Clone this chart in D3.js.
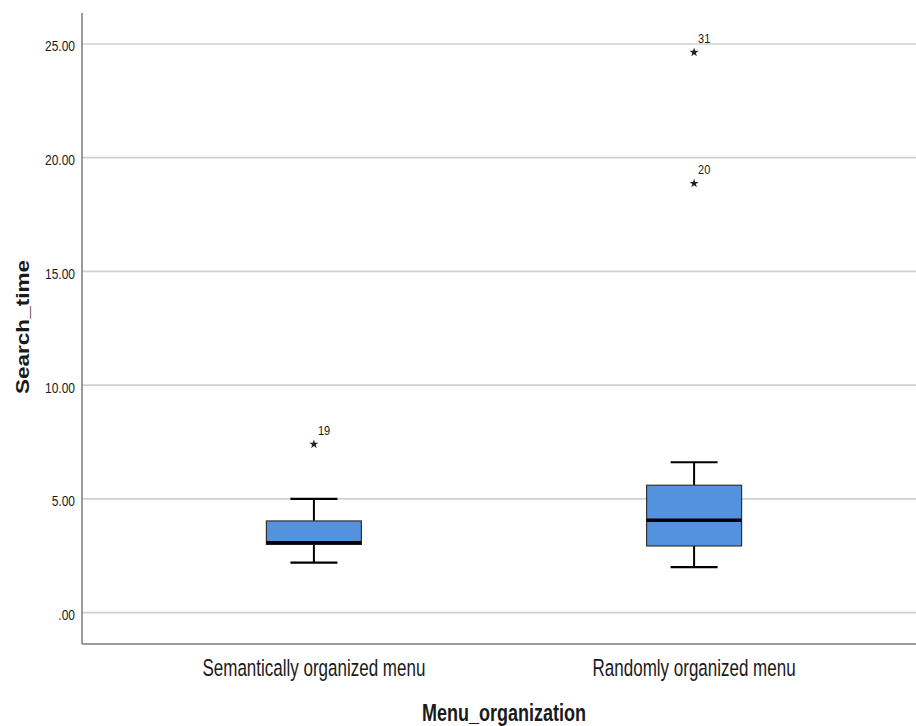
<!DOCTYPE html>
<html>
<head>
<meta charset="utf-8">
<script src="https://cdn.jsdelivr.net/npm/d3@7"></script>
<style>
  html, body { margin: 0; padding: 0; background: #fff; }
  svg { display: block; }
  text { font-family: "Liberation Sans", Arial, sans-serif; }
</style>
</head>
<body>
<div id="chart"></div>
<script>
// ---- data ----
const categories = ["Semantically organized menu", "Randomly organized menu"];
const whiskerLow  = [2.2, 2.0];
const q1          = [3.0, 2.93];
const median      = [3.07, 4.06];
const q3          = [4.03, 5.6];
const whiskerHigh = [5.0, 6.61];
const outlierCategory = ["Semantically organized menu", "Randomly organized menu", "Randomly organized menu"];
const outlierValues   = [7.4, 18.87, 24.63];
const outlierLabels   = ["19", "20", "31"];
const yTickValues = [0, 5, 10, 15, 20, 25];
const yTickLabels = [".00", "5.00", "10.00", "15.00", "20.00", "25.00"];
const xTitle = "Menu_organization";
const yTitle = "Search_time";

// ---- layout ----
const W = 916, H = 726;
const plotLeft = 82, plotRight = 926, plotTop = 13, plotBottom = 644;

const svg = d3.select("#chart").append("svg").attr("width", W).attr("height", H);

const x = d3.scalePoint().domain(categories).range([plotLeft, plotRight]).padding(0.61);
const y = d3.scaleLinear().domain([-1.38, 26.36]).range([plotBottom, plotTop]);

function sText(g, txt, tx, ty, size, anchor, weight, stretch, rotate) {
  return g.append("text")
    .attr("transform", rotate
      ? `translate(${tx},${ty}) rotate(-90) scale(${stretch},1)`
      : `translate(${tx},${ty}) scale(1,${stretch})`)
    .attr("text-anchor", anchor)
    .attr("font-size", size)
    .attr("font-weight", weight || "normal")
    .attr("fill", "#1a1a1a")
    .text(txt);
}

// gridlines
svg.append("g").selectAll("line").data(yTickValues).join("line")
  .attr("x1", plotLeft).attr("x2", W)
  .attr("y1", d => y(d)).attr("y2", d => y(d))
  .attr("stroke", "#d0d0d0").attr("stroke-width", 1.6);

// y axis via d3 axis (labels drawn manually for vertical stretch)
const yAxis = d3.axisLeft(y).tickValues(yTickValues).tickSize(0).tickFormat("");
const gy = svg.append("g").attr("transform", `translate(${plotLeft},0)`).call(yAxis);
gy.select(".domain").remove();
const yl = svg.append("g");
yTickValues.forEach((v, i) => sText(yl, yTickLabels[i], 75, y(v) + 7.5, 12, "end", "normal", 1.25));

// axis lines
svg.append("line").attr("x1", plotLeft).attr("x2", plotLeft).attr("y1", plotTop).attr("y2", plotBottom)
  .attr("stroke", "#7a7a7a").attr("stroke-width", 1.5);
svg.append("line").attr("x1", plotLeft).attr("x2", W).attr("y1", plotBottom).attr("y2", plotBottom)
  .attr("stroke", "#7a7a7a").attr("stroke-width", 1.5);

// x tick labels
const xl = svg.append("g");
categories.forEach(c => sText(xl, c, x(c), 676, 17, "middle", "normal", 1.37));

// titles
sText(svg, xTitle, 504, 721, 18, "middle", "bold", 1.28);
sText(svg, yTitle, 29, 327, 18.5, "middle", "bold", 1.22, true);

// boxes
const boxW = 95, capW = 47;
const g = svg.append("g");
categories.forEach((c, i) => {
  const cx = x(c);
  g.append("line").attr("x1", cx).attr("x2", cx).attr("y1", y(whiskerHigh[i])).attr("y2", y(q3[i]))
    .attr("stroke", "#000").attr("stroke-width", 2);
  g.append("line").attr("x1", cx).attr("x2", cx).attr("y1", y(q1[i])).attr("y2", y(whiskerLow[i]))
    .attr("stroke", "#000").attr("stroke-width", 2);
  [whiskerHigh[i], whiskerLow[i]].forEach(v => {
    g.append("line").attr("x1", cx - capW / 2).attr("x2", cx + capW / 2).attr("y1", y(v)).attr("y2", y(v))
      .attr("stroke", "#000").attr("stroke-width", 2.2);
  });
  g.append("rect").attr("x", cx - boxW / 2).attr("y", y(q3[i]))
    .attr("width", boxW).attr("height", y(q1[i]) - y(q3[i]))
    .attr("fill", "#5492dd").attr("stroke", "#333").attr("stroke-width", 1.2);
  g.append("line").attr("x1", cx - boxW / 2).attr("x2", cx + boxW / 2).attr("y1", y(median[i])).attr("y2", y(median[i]))
    .attr("stroke", "#000").attr("stroke-width", 3.5);
});

// outliers
const star = d3.symbol().type(d3.symbolStar).size(26);
outlierValues.forEach((v, i) => {
  const cx = x(outlierCategory[i]);
  g.append("path").attr("d", star).attr("transform", `translate(${cx},${y(v)})`).attr("fill", "#222");
  sText(g, outlierLabels[i], cx + 4, y(v) - 9, 11, "start", "normal", 1.22);
});
</script>
</body>
</html>
